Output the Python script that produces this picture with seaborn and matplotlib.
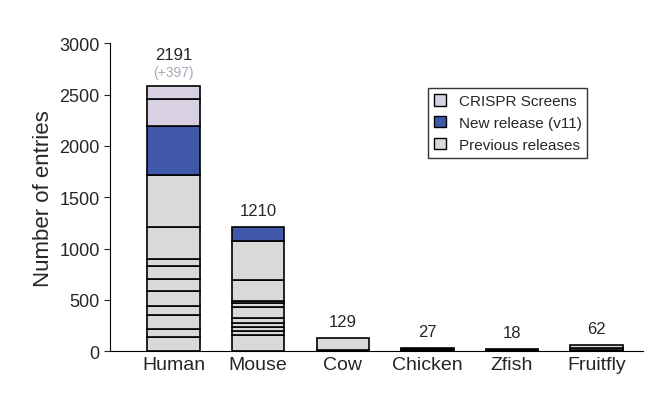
import matplotlib
matplotlib.use("Agg")
import matplotlib.pyplot as plt
import seaborn as sns
import numpy as np

categories = ["Human", "Mouse", "Cow", "Chicken", "Zfish", "Fruitfly"]
# cumulative boundaries of previous-release segments
prev_bounds = {
    "Human": [140, 220, 355, 440, 590, 705, 825, 900, 1210, 1715],
    "Mouse": [160, 200, 240, 270, 325, 435, 465, 485, 690, 1070],
    "Cow": [10, 129],
    "Chicken": [10, 20, 27],
    "Zfish": [8, 18],
    "Fruitfly": [15, 30, 62],
}
new_release_top = {"Human": 2191, "Mouse": 1210}
crispr_bounds = {"Human": [2460, 2588]}
totals = [2191, 1210, 129, 27, 18, 62]
crispr_extra = {"Human": 397}

plt.rcParams["font.family"] = "Liberation Sans"
grey, blue, lilac = "#d9d9d9", "#3f59a8", "#d8d0e3"
sns.set_style("white", {"font.family": "Liberation Sans"})
fig, ax = plt.subplots(figsize=(6.63, 4.02), dpi=100)
w = 0.62
for i, c in enumerate(categories):
    bottom = 0
    for b in prev_bounds[c]:
        ax.bar(i, b - bottom, w, bottom=bottom, color=grey, edgecolor="black", linewidth=1.2)
        bottom = b
    if c in new_release_top:
        t = new_release_top[c]
        ax.bar(i, t - bottom, w, bottom=bottom, color=blue, edgecolor="black", linewidth=1.2)
        bottom = t
    for b in crispr_bounds.get(c, []):
        ax.bar(i, b - bottom, w, bottom=bottom, color=lilac, edgecolor="black", linewidth=1.2)
        bottom = b
    if c in crispr_extra:
        ax.text(i, bottom + 60, f"(+{crispr_extra[c]})", ha="center", va="bottom", fontsize=10, color="#a8a8b8")
        ax.text(i, bottom + 230, str(totals[i]), ha="center", va="bottom", fontsize=12)
    else:
        ax.text(i, bottom + 90, str(totals[i]), ha="center", va="bottom", fontsize=12)

ax.set_ylim(0, 3000)
ax.set_xlim(-0.75, 5.55)
ax.set_yticks(range(0, 3001, 500))
ax.set_xticks(range(len(categories)))
ax.set_xticklabels(categories, fontsize=14)
ax.tick_params(axis="y", labelsize=13, direction="out", length=4, left=True)
ax.tick_params(axis="x", length=0)
ax.set_ylabel("Number of entries", fontsize=16)
for s in ["top", "right"]:
    ax.spines[s].set_visible(False)
for s in ["left", "bottom"]:
    ax.spines[s].set_color("black")

from matplotlib.patches import Patch
handles = [Patch(facecolor=lilac, edgecolor="black", label="CRISPR Screens"),
           Patch(facecolor=blue, edgecolor="black", label="New release (v11)"),
           Patch(facecolor=grey, edgecolor="black", label="Previous releases")]
leg = ax.legend(handles=handles, loc="upper right", bbox_to_anchor=(0.91, 0.88), fontsize=11,
                frameon=True, fancybox=False, edgecolor="black", handlelength=0.8, handleheight=0.8)
plt.subplots_adjust(left=0.166, right=0.97, top=0.89, bottom=0.124)
fig.savefig("out.png", dpi=100)
